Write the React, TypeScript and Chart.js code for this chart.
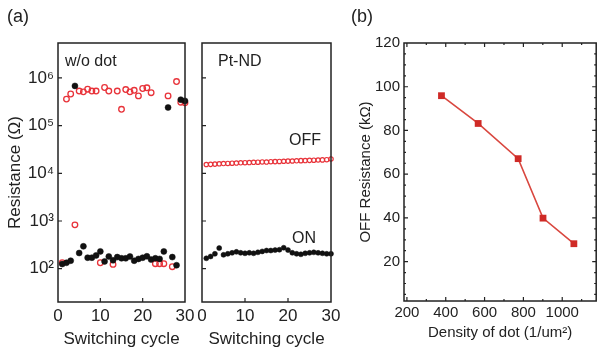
import React, { useEffect, useRef } from 'react';
import { Chart, registerables } from 'chart.js';

Chart.register(...registerables);

const FONT = "'Liberation Sans', Arial, Helvetica, sans-serif";
const TEXT = '#222';
const RED = '#e8333a';
const BLACK = '#111';

// ---------- Panel (a), left: w/o dot ----------
const woCycles = [1, 2, 3, 4, 5, 6, 7, 8, 9, 10, 11, 12, 13, 14, 15, 16, 17, 18, 19, 20, 21, 22, 23, 24, 25, 26, 27, 28, 29, 30];
const woOff = [133, 3.6e5, 4.6e5, 830, 5.3e5, 5.1e5, 5.8e5, 5.3e5, 5.3e5, 133, 6.3e5, 5.3e5, 123, 5.3e5, 2.2e5, 5.7e5, 5.1e5, 5.5e5, 4.2e5, 6.0e5, 6.2e5, 4.9e5, 127, 127, 127, 4.2e5, 110, 8.4e5, 3.1e5, 3.0e5];
const woOn = [125, 133, 147, 6.8e5, 213, 294, 170, 170, 190, 230, 142, 180, 150, 175, 165, 165, 180, 147, 160, 170, 182, 155, 165, 160, 230, 2.4e5, 175, 118, 3.5e5, 3.3e5];

// ---------- Panel (a), right: Pt-ND ----------
const ptCycles = [1, 2, 3, 4, 5, 6, 7, 8, 9, 10, 11, 12, 13, 14, 15, 16, 17, 18, 19, 20, 21, 22, 23, 24, 25, 26, 27, 28, 29, 30];
const ptOff = [15300, 15400, 15600, 15800, 16000, 16100, 16300, 16400, 16600, 16700, 16800, 17000, 17100, 17300, 17200, 17500, 17600, 17700, 17900, 18000, 18100, 18300, 18400, 18500, 18700, 18800, 19000, 19100, 19300, 20000];
const ptOn = [165, 180, 205, 270, 195, 205, 215, 225, 215, 210, 215, 210, 220, 230, 240, 240, 245, 250, 275, 245, 215, 205, 200, 210, 215, 220, 215, 210, 205, 205];

// log axis ticks and labels
const decadeTicks = [1e2, 1e3, 1e4, 1e5, 1e6];
const decadeLabels = ['10²', '10³', '10⁴', '10⁵', '10⁶'];
const cycleTicks = [0, 10, 20, 30];

// ---------- Panel (b) ----------
const density = [378, 567, 773, 901, 1060];
const offResistance = [95.9, 83.2, 67.1, 39.9, 28.2];
const densityTicks = [200, 300, 400, 500, 600, 700, 800, 900, 1000, 1100];
const densityLabelTicks = [200, 400, 600, 800, 1000];
const resTicks = [5, 10, 15, 20, 25, 30, 35, 40, 45, 50, 55, 60, 65, 70, 75, 80, 85, 90, 95, 100, 105, 110, 115, 120];
const resLabelTicks = [20, 40, 60, 80, 100, 120];

const W = 601;
const H = 348;

const frameTicksPlugin = {
  id: 'frameTicks',
  afterDraw(chart: any, _args: any, opts: any) {
    const { ctx, chartArea } = chart;
    const { left, right, top, bottom } = chartArea;
    const xs = chart.scales.x;
    const ys = chart.scales.y;
    ctx.save();
    ctx.strokeStyle = opts.color || '#222';
    ctx.lineWidth = opts.tickWidth || 1.2;
    const sides = opts.sides || {};
    const majorLen = opts.major || 4;
    const minorLen = opts.minor || 2;
    const isMajorX = opts.isMajorX || (() => true);
    const isMajorY = opts.isMajorY || (() => true);
    ctx.beginPath();
    (xs.ticks || []).forEach((t: any) => {
      const px = xs.getPixelForValue(t.value);
      if (px <= left + 1 || px >= right - 1) return;
      const len = isMajorX(t.value) ? majorLen : minorLen;
      if (sides.bottom) { ctx.moveTo(px, bottom); ctx.lineTo(px, bottom - len); }
      if (sides.top) { ctx.moveTo(px, top); ctx.lineTo(px, top + len); }
    });
    (ys.ticks || []).forEach((t: any) => {
      const py = ys.getPixelForValue(t.value);
      if (py <= top + 1 || py >= bottom - 1) return;
      const len = isMajorY(t.value) ? majorLen : minorLen;
      if (sides.left) { ctx.moveTo(left, py); ctx.lineTo(left + len, py); }
      if (sides.right) { ctx.moveTo(right, py); ctx.lineTo(right - len, py); }
    });
    ctx.stroke();
    ctx.lineWidth = opts.frameWidth || 1.5;
    ctx.strokeRect(left, top, right - left, bottom - top);
    ctx.restore();
  },
};

const textPlugin = {
  id: 'freeText',
  afterDraw(chart: any, _args: any, opts: any) {
    const { ctx } = chart;
    ctx.save();
    (opts.items || []).forEach((it: any) => {
      ctx.font = `${it.size}px ${FONT}`;
      ctx.fillStyle = TEXT;
      ctx.textAlign = it.align || 'left';
      ctx.textBaseline = 'middle';
      ctx.fillText(it.text, it.x, it.y);
    });
    ctx.restore();
  },
};

function fixWidth(w: number) {
  return (scale: any) => { scale.width = w; };
}
function fixHeight(h: number) {
  return (scale: any) => { scale.height = h; };
}
function setTicks(values: number[]) {
  return (scale: any) => { scale.ticks = values.map((v) => ({ value: v })); };
}

function pairs(xs: number[], ys: number[]) {
  return xs.map((x, i) => ({ x, y: ys[i] }));
}

function cycleXAxis() {
  return {
    type: 'linear',
    min: 0,
    max: 30,
    afterBuildTicks: setTicks(cycleTicks),
    afterFit: fixHeight(46),
    grid: { display: false, drawTicks: false },
    border: { display: false },
    ticks: { padding: 4, color: TEXT, font: { size: 17, family: FONT }, callback: (v: any) => String(v) },
    title: { display: true, text: 'Switching cycle', color: TEXT, font: { size: 17, family: FONT, lineHeight: 1 }, padding: { top: 0, bottom: 0 } },
  };
}

function logYAxis(showLabels: boolean, width: number) {
  return {
    type: 'logarithmic',
    min: 20,
    max: 5.4e6,
    afterBuildTicks: setTicks(decadeTicks),
    afterFit: fixWidth(width),
    grid: { display: false, drawTicks: false },
    border: { display: false },
    ticks: {
      display: showLabels,
      padding: 4,
      color: TEXT,
      font: { size: 17, family: FONT },
      callback: (v: any) => {
        const i = decadeTicks.indexOf(Number(v));
        return i >= 0 ? decadeLabels[i] : '';
      },
    },
    title: showLabels
      ? { display: true, text: 'Resistance (Ω)', color: TEXT, font: { size: 17, family: FONT, lineHeight: 1 }, padding: { top: 7, bottom: 0 } }
      : { display: false },
  };
}

function makeConfigs(): any[] {
  const cfgA1 = {
    type: 'scatter',
    data: {
      datasets: [
        {
          label: 'ON',
          data: pairs(woCycles, woOn),
          pointStyle: 'circle',
          pointRadius: 3,
          pointBackgroundColor: BLACK,
          pointBorderColor: BLACK,
          pointBorderWidth: 0.5,
          clip: false,
        },
        {
          label: 'OFF',
          data: pairs(woCycles, woOff),
          pointStyle: 'circle',
          pointRadius: 2.8,
          pointBackgroundColor: 'rgba(255,255,255,0)',
          pointBorderColor: RED,
          pointBorderWidth: 1.3,
          clip: false,
        },
      ],
    },
    options: {
      responsive: false,
      animation: false,
      events: [],
      layout: { padding: { left: 0, top: 43, right: W - 185, bottom: 0 } },
      scales: { x: cycleXAxis(), y: logYAxis(true, 58) },
      plugins: {
        legend: { display: false },
        tooltip: { enabled: false },
        frameTicks: { sides: { left: true, bottom: true }, major: 4, minor: 2 },
        freeText: {
          items: [
            { text: '(a)', x: 7, y: 17, size: 18 },
            { text: 'w/o dot', x: 65, y: 62, size: 16 },
          ],
        },
      },
    },
    plugins: [frameTicksPlugin, textPlugin],
  };

  const cfgA2 = {
    type: 'scatter',
    data: {
      datasets: [
        {
          label: 'ON',
          data: pairs(ptCycles, ptOn),
          pointStyle: 'circle',
          pointRadius: 2.5,
          pointBackgroundColor: BLACK,
          pointBorderColor: BLACK,
          pointBorderWidth: 0.5,
          clip: false,
        },
        {
          label: 'OFF',
          data: pairs(ptCycles, ptOff),
          pointStyle: 'circle',
          pointRadius: 2.2,
          pointBackgroundColor: 'rgba(255,255,255,0)',
          pointBorderColor: RED,
          pointBorderWidth: 1.2,
          clip: false,
        },
      ],
    },
    options: {
      responsive: false,
      animation: false,
      events: [],
      layout: { padding: { left: 202, top: 43, right: W - 331, bottom: 0 } },
      scales: { x: cycleXAxis(), y: logYAxis(false, 0) },
      plugins: {
        legend: { display: false },
        tooltip: { enabled: false },
        frameTicks: { sides: { left: true, bottom: true }, major: 4, minor: 2 },
        freeText: {
          items: [
            { text: 'Pt-ND', x: 218, y: 62, size: 16 },
            { text: 'OFF', x: 289, y: 141, size: 16 },
            { text: 'ON', x: 292, y: 239, size: 16 },
          ],
        },
      },
    },
    plugins: [frameTicksPlugin, textPlugin],
  };

  const cfgB = {
    type: 'scatter',
    data: {
      datasets: [
        {
          label: 'OFF Resistance',
          data: pairs(density, offResistance),
          showLine: true,
          borderColor: '#d9473f',
          borderWidth: 1.6,
          pointStyle: 'rect',
          pointRadius: 4.8,
          pointBackgroundColor: '#cf2a26',
          pointBorderColor: '#cf2a26',
          pointBorderWidth: 0,
          clip: false,
        },
      ],
    },
    options: {
      responsive: false,
      animation: false,
      events: [],
      layout: { padding: { left: 350, top: 43, right: 1, bottom: 0 } },
      scales: {
        x: {
          type: 'linear',
          min: 185,
          max: 1175,
          afterBuildTicks: setTicks(densityTicks),
          afterFit: fixHeight(47),
          grid: { display: false, drawTicks: false },
          border: { display: false },
          ticks: {
            padding: 3,
            autoSkip: false,
            maxRotation: 0,
            color: TEXT,
            font: { size: 15, family: FONT },
            callback: (v: any) => (densityLabelTicks.indexOf(Number(v)) >= 0 ? String(v) : ''),
          },
          title: { display: true, text: 'Density of dot (1/um²)', color: TEXT, font: { size: 15, family: FONT, lineHeight: 1 }, padding: { top: 0, bottom: 8 } },
        },
        y: {
          type: 'linear',
          min: 2,
          max: 120,
          afterBuildTicks: setTicks(resTicks),
          afterFit: fixWidth(54),
          grid: { display: false, drawTicks: false },
          border: { display: false },
          ticks: {
            padding: 4,
            autoSkip: false,
            color: TEXT,
            font: { size: 15, family: FONT },
            callback: (v: any) => (resLabelTicks.indexOf(Number(v)) >= 0 ? String(v) : ''),
          },
          title: { display: true, text: 'OFF Resistance (kΩ)', color: TEXT, font: { size: 15, family: FONT, lineHeight: 1 }, padding: { top: 8, bottom: 0 } },
        },
      },
      plugins: {
        legend: { display: false },
        tooltip: { enabled: false },
        frameTicks: {
          sides: { left: true, bottom: true, top: true, right: true },
          major: 4,
          minor: 2,
          isMajorX: (v: number) => densityLabelTicks.indexOf(v) >= 0,
          isMajorY: (v: number) => resLabelTicks.indexOf(v) >= 0,
        },
        freeText: { items: [{ text: '(b)', x: 351, y: 17, size: 18 }] },
      },
    },
    plugins: [frameTicksPlugin, textPlugin],
  };

  return [cfgA1, cfgA2, cfgB];
}

export default function App() {
  const r1 = useRef<HTMLCanvasElement | null>(null);
  const r2 = useRef<HTMLCanvasElement | null>(null);
  const r3 = useRef<HTMLCanvasElement | null>(null);

  useEffect(() => {
    const cfgs = makeConfigs();
    const refs = [r1, r2, r3];
    const charts = refs.map((r, i) => new Chart(r.current as HTMLCanvasElement, cfgs[i]));
    return () => charts.forEach((c) => c.destroy());
  }, []);

  const canvasStyle: React.CSSProperties = { position: 'absolute', left: 0, top: 0, width: W, height: H };
  return (
    <div style={{ position: 'fixed', left: 0, top: 0, width: W, height: H, background: '#fff', overflow: 'hidden' }}>
      <canvas ref={r1} width={W} height={H} style={canvasStyle} />
      <canvas ref={r2} width={W} height={H} style={canvasStyle} />
      <canvas ref={r3} width={W} height={H} style={canvasStyle} />
    </div>
  );
}
